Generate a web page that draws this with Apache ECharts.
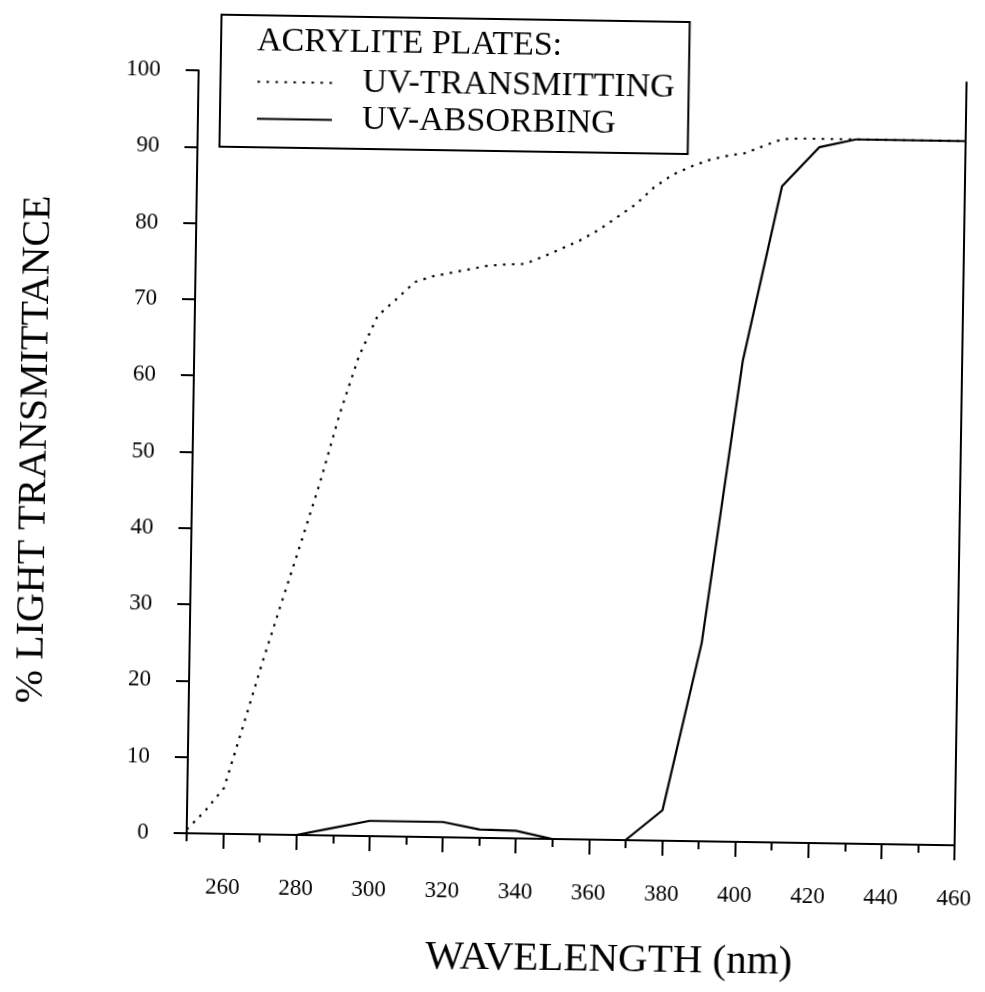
<!DOCTYPE html>
<html>
<head>
<meta charset="utf-8">
<script src="https://cdn.jsdelivr.net/npm/echarts@6/dist/echarts.min.js"></script>
<style>
  html, body { margin: 0; padding: 0; background: #fff; overflow: hidden; }
  #chart { width: 985px; height: 992px; background: #fff; transform: rotate(0.9deg); transform-origin: 50% 50%; }
</style>
</head>
<body>
<div id="chart"></div>
<script>
// Wavelength grid (nm) and % transmittance for the two acrylic sheet types
const transmittingNm = [250, 255, 260, 265, 270, 275, 280, 285, 290, 295, 300, 305, 310, 315, 320, 325, 330, 335, 340, 345, 350, 355, 360, 365, 370, 375, 380, 385, 390, 395, 400, 405, 410, 415, 420, 425, 430, 440, 450, 460];
const uvTransmitting = [0.5, 3, 6, 14.2, 22.6, 30.5, 38.3, 46.3, 55.2, 62.8, 68.2, 70.4, 72.7, 73.5, 74.0, 74.5, 75.0, 75.2, 75.3, 76.3, 77.4, 78.5, 79.9, 81.6, 83.3, 85.6, 87.3, 88.4, 89.3, 89.9, 90.3, 91.3, 92.2, 92.3, 92.3, 92.3, 92.3, 92.3, 92.3, 92.3];

const absorbingNm = [250, 260, 270, 280, 290, 300, 310, 320, 330, 340, 350, 360, 370, 380, 390, 400, 410, 420, 430, 440, 450, 460];
const uvAbsorbing = [0, 0, 0, 0, 1, 2, 2, 2, 1.1, 1.0, 0, 0, 0, 4, 26, 63, 86, 91.2, 92.3, 92.3, 92.3, 92.3];

// Axis ticks
const majorTicksNm = [260, 280, 300, 320, 340, 360, 380, 400, 420, 440, 460];
const minorTicksNm = [250, 270, 290, 310, 330, 350, 370, 390, 410, 430, 450];

const legendHeader = 'ACRYLITE PLATES:';
const seriesNames = ['UV-TRANSMITTING', 'UV-ABSORBING'];

const FONT = '"Liberation Serif", "Times New Roman", serif';
const INK = '#000';

const pairs = (xs, ys) => xs.map((x, i) => [x, ys[i]]);

const chart = echarts.init(document.getElementById('chart'), null, { renderer: 'canvas' });

chart.setOption({
  backgroundColor: '#fff',
  animation: false,
  title: {
    text: legendHeader,
    left: 250,
    top: 28,
    padding: 0,
    z: 20,
    textStyle: { fontFamily: FONT, fontSize: 34, fontWeight: 'normal', color: INK }
  },
  legend: {
    data: seriesNames,
    orient: 'vertical',
    left: 214,
    top: 19,
    padding: [48, 14, 10, 36],
    itemGap: 0,
    itemWidth: 75,
    itemHeight: 14,
    borderColor: INK,
    borderWidth: 2,
    backgroundColor: '#fff',
    z: 10,
    itemStyle: { color: 'transparent', borderWidth: 0, opacity: 0 },
    textStyle: { fontFamily: FONT, fontSize: 34, color: INK, lineHeight: 37, padding: [0, 0, 0, 25] }
  },
  grid: { left: 192, right: 25, top: 75, bottom: 154, containLabel: false },
  xAxis: [
    {
      type: 'value',
      min: 250,
      max: 460,
      name: 'WAVELENGTH (nm)',
      nameLocation: 'middle',
      nameGap: 100,
      nameTextStyle: { fontFamily: FONT, fontSize: 41, color: INK, padding: [0, 0, 0, 80] },
      axisLine: { show: true, lineStyle: { color: INK, width: 2 } },
      axisTick: { show: true, inside: false, length: 15, lineStyle: { color: INK, width: 2 }, customValues: majorTicksNm },
      axisLabel: { fontFamily: FONT, fontSize: 23, color: INK, margin: 42, customValues: majorTicksNm },
      splitLine: { show: false }
    },
    {
      type: 'value',
      min: 250,
      max: 460,
      position: 'bottom',
      axisLine: { show: false },
      axisTick: { show: true, inside: false, length: 8, lineStyle: { color: INK, width: 2 }, customValues: minorTicksNm },
      axisLabel: { show: false },
      splitLine: { show: false }
    }
  ],
  yAxis: [
    {
      type: 'value',
      min: 0,
      max: 100,
      interval: 10,
      position: 'left',
      name: '% LIGHT TRANSMITTANCE',
      nameLocation: 'middle',
      nameRotate: 90,
      nameGap: 138,
      nameTextStyle: { fontFamily: FONT, fontSize: 40, color: INK },
      axisLine: { show: true, lineStyle: { color: INK, width: 2 } },
      axisTick: { show: true, inside: false, length: 13, lineStyle: { color: INK, width: 2 } },
      axisLabel: { fontFamily: FONT, fontSize: 23, color: INK, margin: 38 },
      splitLine: { show: false }
    },
    {
      type: 'value',
      min: 0,
      max: 100,
      interval: 10,
      position: 'right',
      axisLine: { show: true, lineStyle: { color: INK, width: 2 } },
      axisTick: { show: false },
      axisLabel: { show: false },
      splitLine: { show: false }
    }
  ],
  series: [
    {
      name: seriesNames[0],
      type: 'line',
      xAxisIndex: 0,
      yAxisIndex: 0,
      data: pairs(transmittingNm, uvTransmitting),
      symbol: 'none',
      showSymbol: false,
      lineStyle: { color: INK, width: 2.2, type: [2.5, 6.5] },
      itemStyle: { color: INK },
      z: 3
    },
    {
      name: seriesNames[1],
      type: 'line',
      xAxisIndex: 0,
      yAxisIndex: 0,
      data: pairs(absorbingNm, uvAbsorbing),
      symbol: 'none',
      showSymbol: false,
      lineStyle: { color: INK, width: 2.2, type: 'solid' },
      itemStyle: { color: INK },
      z: 4
    }
  ]
});
</script>
</body>
</html>
